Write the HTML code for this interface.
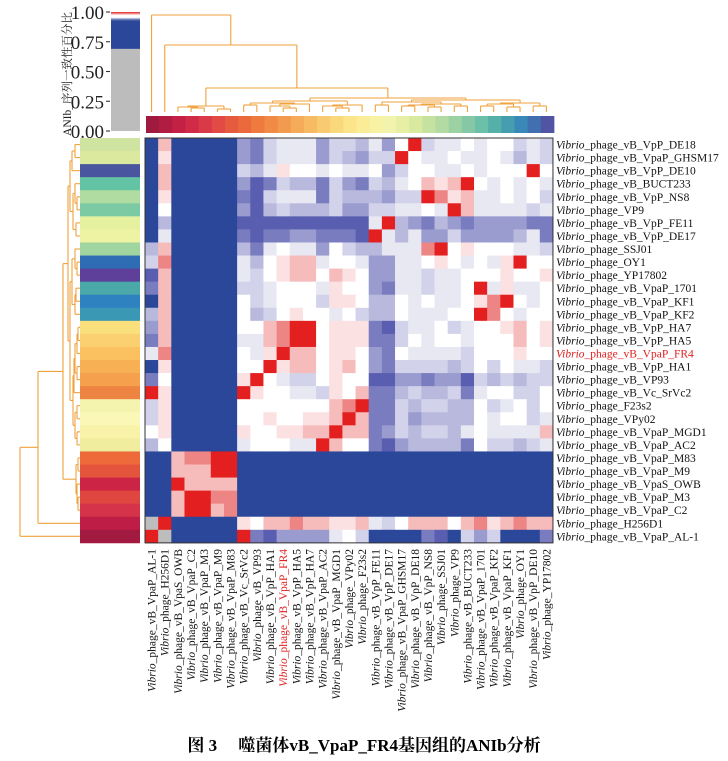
<!DOCTYPE html>
<html><head><meta charset="utf-8"><style>
html,body{margin:0;padding:0;background:#fff;}
svg{display:block;}
text{font-family:"Liberation Serif","Noto Serif CJK SC",serif;}
</style></head><body>
<svg id="chart" width="728" height="761" viewBox="0 0 728 761" xmlns="http://www.w3.org/2000/svg">
<g id="key"></g>
<g id="coldend"></g>
<g id="colbar"></g>
<g id="rowdend"></g>
<g id="rowbar"></g>
<g id="heat"></g>
<g id="rlab"></g>
<g id="clab"></g>
<text x="364" y="751" text-anchor="middle" font-size="17" font-weight="bold">图 3　 噬菌体vB_VpaP_FR4基因组的ANIb分析</text>
</svg>
<script>
const rowNames=["vB_VpP_DE18","vB_VpaP_GHSM17","vB_VpP_DE10","vB_BUCT233","vB_VpP_NS8","VP9","vB_VpP_FE11","vB_VpP_DE17","SSJ01","OY1","YP17802","vB_VpaP_1701","vB_VpaP_KF1","vB_VpaP_KF2","vB_VpP_HA7","vB_VpP_HA5","vB_VpaP_FR4","vB_VpP_HA1","vB_VP93","vB_Vc_SrVc2","F23s2","VPy02","vB_VpaP_MGD1","vB_VpaP_AC2","vB_VpaP_M83","vB_VpaP_M9","vB_VpaS_OWB","vB_VpaP_M3","vB_VpaP_C2","H256D1","vB_VpaP_AL-1"];
const colNames=["vB_VpaP_AL-1","H256D1","vB_VpaS_OWB","vB_VpaP_C2","vB_VpaP_M3","vB_VpaP_M9","vB_VpaP_M83","vB_Vc_SrVc2","vB_VP93","vB_VpP_HA1","vB_VpaP_FR4","vB_VpP_HA5","vB_VpP_HA7","vB_VpaP_AC2","vB_VpaP_MGD1","VPy02","F23s2","vB_VpP_FE11","vB_VpP_DE17","vB_VpaP_GHSM17","vB_VpP_DE18","vB_VpP_NS8","SSJ01","VP9","vB_BUCT233","vB_VpaP_1701","vB_VpaP_KF2","vB_VpaP_KF1","OY1","vB_VpP_DE10","YP17802"];
const levels={'0':'#ffffff','1':'#e8e8f3','2':'#d2d3ea','3':'#b8b9dd','4':'#9a9bcf','5':'#7a7cc0','6':'#5a5eb0','B':'#2b479a','p':'#fbe1e1','q':'#f6bcbc','r':'#ee8585','R':'#e41f1f','G':'#bdbdbd'};
const B24="BBBBBBBBBBBBBBBBBBBBBBBB";
const matrix=[
"BqBBBBB"+"4521114223140R2110100212",
"BpBBBBB"+"452111423422R01101101312",
"BqBBBBB"+"231p001011042001101000R0",
"BqBBBBB"+"46523352452310qpqR010101",
"BpBBBBB"+"56211152333422Rrpq110102",
"B0BBBBB"+"4632333244221101Rq111121",
"B3BBBBB"+"66666666661R345345444455",
"B1BBBBB"+"5655445556R1314424444315",
"3qBBBBB"+"35101140233111rR0p000112",
"2rBBBBB"+"130pqq100144110p0101pR00",
"6qBBBBB"+"120pqq0qp04411211000p00pR".slice(0,24),
"5qBBBBB"+"2210001p0045112110R1p110",
"BqBBBBB"+"0210002pp033010110prR010",
"3qBBBBB"+"0320p001023301110 0Rr010".replace(" ",""),
"4qBBBBB"+"00qrRR0ppp5621102100pq0p",
"5qBBBBB"+"11qrRR0ppp552010010 00q0p".replace(" ",""),
"1rBBBBB"+"01pRqq0pp045011112000p00",
"BpBBBBB"+"00Rpqq0pq04522223202 0112".replace(" ",""),
"50BBBBB"+"pR01220p00664454462323 22".replace(" ",""),
"RpBBBBB"+"Rp00112p0q55323325100220",
"2pBBBBB"+"0000000qrR55232233021020",
"2pBBBBB"+"00p00ppqRq55243333010021",
"0pBBBBB"+"p00ppqqRqq542322310111 1q".replace(" ",""),
"30BBBBB"+"100011Rq0056433335022321",
"BBqrrRR"+B24,
"BBqqqRR"+B24,
"BBRqqqq"+B24,
"BBqRRrr"+B24,
"BBqRRqr"+B24,
"GRBBBBB"+"p0qqrqqppq120qqq0qrpqrqq",
"RGBBBBB"+"R564444102BBBB56B242BBB5"
];
const rowColors=["#cfe4a0","#dbe99f","#4a55a0","#62c4a4","#b0dca2","#7ccaa4","#e6f1a0","#eef3a3","#a0d5a0","#2e6db3","#5e3f99","#4aa9a8","#2e82c0","#3a98b5","#fae07d","#fbd070","#fbc060","#f8b055","#f4a04c","#ee8442","#f4f4ae","#fbf7b6","#f8f3a9","#f0ed9f","#ee6a3a","#e4543c","#cc2444","#e04640","#d4334a","#be1d45","#a21a40"];
const colColors=["#a0193f","#b01c42","#c41f45","#d02a47","#da3a48","#e24a45","#e65a40","#ea6a3b","#ee7a3d","#f08a45","#f29b4e","#f5ab58","#f7bb63","#f9cb70","#fad97c","#fbe489","#fbec98","#f8f2a5","#f2f3ad","#e6efa3","#d8e9a0","#c6e2a0","#b2daa2","#9cd1a4","#86c8a6","#6cbfa8","#56b0aa","#449eb0","#3a88b8","#4070b0","#5054a2"];
const keyTicks=[0,0.25,0.5,0.75,1];
const keyTickLabels=["0.00","0.25","0.50","0.75","1.00"];
const NS="http://www.w3.org/2000/svg";
function mk(tag,attrs,parent){const e=document.createElementNS(NS,tag);for(const k in attrs)e.setAttribute(k,attrs[k]);parent.appendChild(e);return e;}
const X0=145,Y0=138,CW=13.16,CH=13.06;
const xs=c=>X0+c*CW, ys=r=>Y0+r*CH;
const xc=c=>X0+(c+0.5)*CW, yc=r=>Y0+(r+0.5)*CH;
const heat=document.getElementById('heat');
matrix.forEach((row,r)=>{for(let c=0;c<colNames.length;c++){
 const e=mk('rect',{x:xs(c).toFixed(2),y:ys(r).toFixed(2),width:(CW+0.4).toFixed(2),height:(CH+0.4).toFixed(2),fill:levels[row[c]]||'#fff'},heat);
 
 
}});
mk('rect',{x:X0,y:Y0,width:CW*31,height:CH*31,fill:'none',stroke:'#333','stroke-width':1},heat);
const rowbar=document.getElementById('rowbar');
rowColors.forEach((col,r)=>{const e=mk('rect',{x:80,y:ys(r).toFixed(2),width:60,height:(CH+0.4).toFixed(2),fill:col},rowbar);
 
 });
const colbar=document.getElementById('colbar');
colColors.forEach((col,c)=>{const e=mk('rect',{x:(xs(c)+1).toFixed(2),y:116,width:(CW+0.4).toFixed(2),height:17,fill:col},colbar);
 
 });
const rlab=document.getElementById('rlab');
rowNames.forEach((n,r)=>{const t=mk('text',{x:556,y:(yc(r)+4).toFixed(2),'font-size':11.5,fill:n.includes('FR4')?'#e02020':'#111'},rlab);
 
 
 t.innerHTML='<tspan font-style="italic">Vibrio</tspan>_phage_'+n;});
const clab=document.getElementById('clab');
colNames.forEach((n,c)=>{const t=mk('text',{transform:`translate(${(xc(c)+4).toFixed(2)},549) rotate(-90)`,'text-anchor':'end','font-size':11.5,fill:n.includes('FR4')?'#e02020':'#111'},clab);
 
 
 t.innerHTML='<tspan font-style="italic">Vibrio</tspan>_phage_'+n;});
const rd=document.getElementById('rowdend');const DC='#f0a23c';
function ln(x1,y1,x2,y2,p){mk('line',{x1,y1,x2,y2,stroke:DC,'stroke-width':1.1},p);}
function rn(x,a,b){const A=typeof a==='number'?{x:80,y:yc(a)}:a,Bn=typeof b==='number'?{x:80,y:yc(b)}:b;
 ln(x,A.y,x,Bn.y,rd);ln(x,A.y,A.x,A.y,rd);ln(x,Bn.y,Bn.x,Bn.y,rd);return {x,y:(A.y+Bn.y)/2};}
const n01=rn(75,0,1),rA=rn(72,n01,2),n45=rn(77,4,5),n345=rn(75,3,n45),n67=rn(76,6,7),rB=rn(73,n345,n67),rC=rn(70,rA,rB);
const d1=rn(77,9,10),d2=rn(76,11,12),d2b=rn(75,d2,13),d3=rn(75,8,d1),rD=rn(72,d3,d2b);
const e1=rn(78,14,15),e2=rn(77,e1,16),e3=rn(77,17,18),e4=rn(75,e2,e3),rE=rn(74,e4,19);
const f1=rn(77,20,21),f2=rn(77,22,23),rF=rn(75,f1,f2),rG=rn(73,rE,rF),rH=rn(70,rD,rG),rI=rn(68,rC,rH);
const m1=rn(78,24,25),m2=rn(78,27,28),m3=rn(77,26,m2),rM=rn(76,m1,m3),rJ=rn(63,rI,rM),rK=rn(38,rJ,29);rn(20,rK,30);
const cd=document.getElementById('coldend');
function cn(y,a,b){const A=typeof a==='number'?{x:xc(a),y:112}:a,Bn=typeof b==='number'?{x:xc(b),y:112}:b;
 ln(A.x,y,Bn.x,y,cd);ln(A.x,y,A.x,A.y,cd);ln(Bn.x,y,Bn.x,Bn.y,cd);return {x:(A.x+Bn.x)/2,y};}
const cm1=cn(108,3,4),cm2=cn(109,5,6),cm3=cn(107,2,cm1),cM=cn(106,cm3,cm2);
const p1=cn(105,7,8),p2=cn(106,9,cn(108,10,11)),p3=cn(104,p2,12),p4=cn(106,13,cn(108,14,15)),p5=cn(105,p4,16),cP=cn(101,cn(103,p1,p3),p5);
const q1=cn(105,17,18),q2=cn(106,19,20),q3=cn(107,21,22),q4=cn(105,q2,q3),q5=cn(106,23,24),q6=cn(104,q4,q5);
const q7=cn(106,25,26),q8=cn(107,27,28),q9=cn(104,q7,q8),q10=cn(106,29,30),q11=cn(103,q9,q10),cQ=cn(100,cn(102,q1,q6),q11);
const cI=cn(98,cP,cQ),cJ=cn(88,cM,cI),cK=cn(45,1,cJ);cn(15,0,cK);
const key=document.getElementById('key');
const ky=v=>131-119*v;
mk('rect',{x:111,y:ky(0.69),width:29,height:ky(0)-ky(0.69),fill:'#bcbcbc'},key);
mk('rect',{x:111,y:ky(0.93),width:29,height:ky(0.69)-ky(0.93),fill:'#2b479a'},key);
const gr=mk('linearGradient',{id:'kg',x1:0,y1:1,x2:0,y2:0},mk('defs',{},key));
[['0','#2b479a'],['0.35','#ffffff'],['0.6','#ffffff'],['1','#e41f1f']].forEach(s=>mk('stop',{offset:s[0],'stop-color':s[1]},gr));
mk('rect',{x:111,y:ky(1),width:29,height:ky(0.93)-ky(1),fill:'url(#kg)'},key);
keyTicks.forEach((v,i)=>{ln(106,ky(v),110,ky(v),key);key.lastChild.setAttribute('stroke','#333');
 const t=mk('text',{x:104,y:ky(v)+7,'text-anchor':'end','font-size':19,fill:'#222'},key);
 
 
 t.textContent=keyTickLabels[i];});
const kt=mk('text',{transform:'translate(71,74) rotate(-90)','text-anchor':'middle','font-size':11.5,fill:'#222'},key);


kt.textContent='ANIb_序列一致性百分比';
</script>
</body></html>
